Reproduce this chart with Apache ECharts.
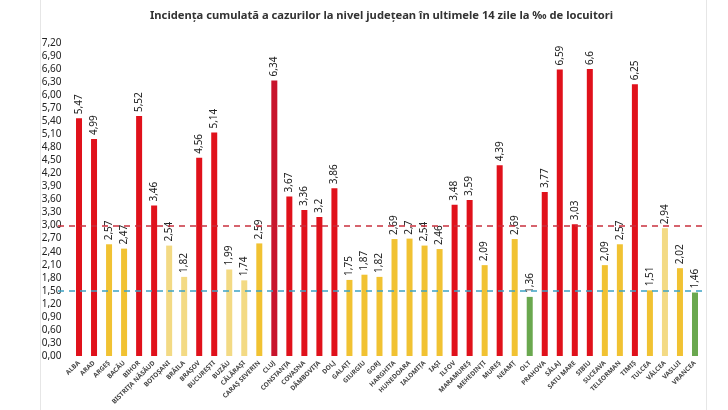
<!DOCTYPE html>
<html>
<head>
<meta charset="utf-8">
<script src="https://cdn.jsdelivr.net/npm/echarts@6/dist/echarts.min.js"></script>
<style>
  html, body { margin: 0; padding: 0; background: #fff; }
  #main { width: 728px; height: 410px; }
</style>
</head>
<body>
<div id="main"></div>
<script>
// judete si incidenta (‰)
const judete = ["ALBA", "ARAD", "ARGEȘ", "BACĂU", "BIHOR", "BISTRIȚA NĂSĂUD", "BOTOȘANI", "BRĂILA", "BRAȘOV", "BUCUREȘTI",
  "BUZĂU", "CĂLĂRAȘI", "CARAȘ SEVERIN", "CLUJ", "CONSTANȚA", "COVASNA", "DÂMBOVIȚA", "DOLJ", "GALAȚI", "GIURGIU",
  "GORJ", "HARGHITA", "HUNEDOARA", "IALOMIȚA", "IAȘI", "ILFOV", "MARAMUREȘ", "MEHEDINȚI", "MUREȘ", "NEAMȚ",
  "OLT", "PRAHOVA", "SĂLAJ", "SATU MARE", "SIBIU", "SUCEAVA", "TELEORMAN", "TIMIȘ", "TULCEA", "VÂLCEA",
  "VASLUI", "VRANCEA"]
const incidenta = [5.47, 4.99, 2.57, 2.47, 5.52, 3.46, 2.54, 1.82, 4.56, 5.14,
  1.99, 1.74, 2.59, 6.34, 3.67, 3.36, 3.2, 3.86, 1.75, 1.87,
  1.82, 2.69, 2.7, 2.54, 2.46, 3.48, 3.59, 2.09, 4.39, 2.69,
  1.36, 3.77, 6.59, 3.03, 6.6, 2.09, 2.57, 6.25, 1.51, 2.94,
  2.02, 1.46]
// praguri (linii punctate)
const pragRosu = 3
const pragVerde = 1.5
// judete cu bara mai deschisa
const palide = ["BOTOȘANI", "BRĂILA", "BUZĂU", "CĂLĂRAȘI", "VÂLCEA"]

const virgula = v => String(v).replace('.', ',')

function culoare(nume, v) {
  if (v > pragRosu) return nume === "CLUJ" ? '#c8142c' : '#e0111b'
  if (v < pragVerde) return '#6aa84f'
  if (palide.includes(nume)) return '#f3da84'
  return '#f1c232'
}

var myChart = echarts.init(document.getElementById('main'))

var option = {
  animation: false,
  title: {
    text: 'Incidența cumulată a cazurilor la nivel județean în ultimele 14 zile la ‰ de locuitori',
    left: 145,
    top: 5,
    textStyle: { fontFamily: 'Noto Sans', fontSize: 11.2, fontWeight: 'bold', color: '#333' }
  },
  graphic: [
    { type: 'line', shape: { x1: 40.5, y1: 0, x2: 40.5, y2: 410 }, style: { stroke: '#e6e6e6', lineWidth: 1 } },
    { type: 'line', shape: { x1: 706.5, y1: 0, x2: 706.5, y2: 410 }, style: { stroke: '#e6e6e6', lineWidth: 1 } }
  ],
  grid: { left: 71.5, right: 25.5, top: 43, bottom: 54 },
  xAxis: {
    type: 'category',
    data: judete,
    axisLine: { show: false },
    axisTick: { show: false },
    axisLabel: {
      interval: 0,
      rotate: 45,
      margin: 6,
      fontFamily: 'Noto Sans',
      fontSize: 6.5,
      fontWeight: 'bold',
      color: '#444'
    }
  },
  yAxis: {
    type: 'value',
    min: 0,
    max: 7.2,
    interval: 0.3,
    splitLine: { show: false },
    axisLine: { show: false },
    axisTick: { show: false },
    axisLabel: {
      margin: 10,
      fontFamily: 'Noto Sans',
      fontSize: 10,
      color: '#222',
      formatter: v => v.toFixed(2).replace('.', ',')
    }
  },
  series: [{
    type: 'bar',
    barWidth: 6,
    data: incidenta.map((v, i) => ({
      value: v,
      itemStyle: { color: culoare(judete[i], v) }
    })),
    label: {
      show: true,
      position: 'top',
      rotate: 90,
      align: 'left',
      verticalAlign: 'middle',
      distance: 4,
      fontFamily: 'Noto Sans',
      fontSize: 10,
      color: '#222',
      formatter: p => virgula(p.value)
    },
    markLine: {
      silent: true,
      symbol: 'none',
      label: { show: false },
      data: [
        [{ x: 58, yAxis: pragRosu, lineStyle: { color: '#c9303e', type: [6, 5], width: 1.5 } },
         { x: 706, yAxis: pragRosu }],
        [{ x: 58, yAxis: pragVerde, lineStyle: { color: '#3ea3c4', type: [6, 5], width: 1.5 } },
         { x: 706, yAxis: pragVerde }]
      ]
    }
  }]
}

myChart.setOption(option)
</script>
</body>
</html>
